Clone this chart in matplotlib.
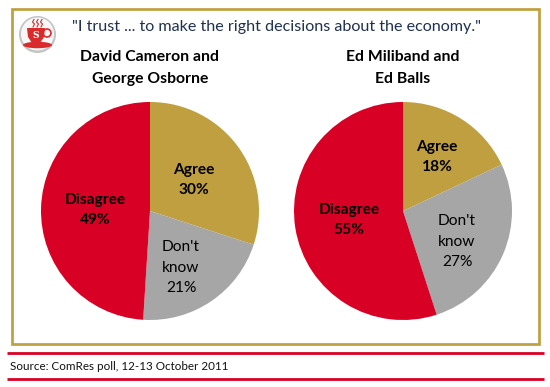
"""Trust on the economy: two pies with a framed panel and source strip."""

import matplotlib

matplotlib.use("Agg")

import matplotlib.pyplot as plt
from matplotlib.patches import Circle, Ellipse, Polygon, Rectangle

W, H = 550, 387

GOLD = "#BF9F3F"
RED = "#D90026"
GREY = "#A6A6A6"
LOGO_RED = "#D92B2B"

question = '"I trust ... to make the right decisions about the economy."'
source = "Source: ComRes poll, 12-13 October 2011"

titles = ["David Cameron and\nGeorge Osborne", "Ed Miliband and\nEd Balls"]
categories = ["Agree", "Don't\nknow", "Disagree"]
cameron_osborne = [30, 21, 49]
miliband_balls = [18, 27, 55]
colors = [GOLD, GREY, RED]

plt.rcParams["font.family"] = ["Lato", "DejaVu Sans"]

fig = plt.figure(figsize=(W / 100, H / 100), dpi=100)
# overlay in pixel coordinates, sits above the pies so labels stay visible
bg = fig.add_axes([0, 0, 1, 1], zorder=10)
bg.set_xlim(0, W)
bg.set_ylim(H, 0)
bg.axis("off")

# frame and source strip
bg.add_patch(Rectangle((11.7, 8.8), 527, 334.7, fill=False, ec=GOLD, lw=1.95))
bg.plot([7, 544], [353.4, 353.4], color=RED, lw=2.0, solid_capstyle="butt")
bg.plot([7, 544], [379.4, 379.4], color=RED, lw=2.0, solid_capstyle="butt")
bg.text(10, 367, source, fontsize=8.35, color="#111111", va="center")
bg.text(72, 26.5, question, fontsize=11.6, color="#1F3050", va="center")

# logo
bg.add_patch(Circle((37.5, 34.5), 18.5, fc="#C4C4C4", ec="none"))
bg.add_patch(Circle((37.5, 34), 16.5, fc="#F7F7F7", ec="none"))
bg.add_patch(Ellipse((37.5, 45), 29, 6.5, fc=LOGO_RED, ec="none"))
bg.add_patch(Polygon([(27, 28), (45, 28), (44, 37), (40, 43), (32, 43), (28, 37)],
                     fc=LOGO_RED, ec="none"))
bg.add_patch(Circle((47, 33), 4, fill=False, ec=LOGO_RED, lw=1.2))
for sx in (33, 37, 41):
    bg.plot([sx, sx + 1.5, sx - 0.5, sx + 1], [27, 24, 22, 19.5], color=LOGO_RED, lw=0.8)
bg.text(36, 35, "S", fontsize=6.5, color="white", fontweight="bold",
        family="DejaVu Serif", ha="center", va="center")


def draw_pie(cx, cy, r, values, title, label_pos):
    ax = fig.add_axes([(cx - r) / W, 1 - (cy + r) / H, 2 * r / W, 2 * r / H])
    ax.pie(values, colors=colors, startangle=90, counterclock=False, radius=1,
           wedgeprops={"linewidth": 0})
    ax.set_xlim(-1, 1)
    ax.set_ylim(-1, 1)
    bg.text(cx, 68, title, fontsize=11.3, fontweight="bold", ha="center",
            va="center", linespacing=1.65, color="black")
    for cat, val, (x, y), bold in zip(categories, values, label_pos, [True, False, True]):
        bg.text(x, y, f"{cat}\n{val}%", fontsize=11.2, ha="center", va="center",
                fontweight="bold" if bold else "normal", color="black",
                linespacing=1.55)


draw_pie(150, 211, 109, cameron_osborne, titles[0],
         [(194, 180), (181, 267.5), (95, 210)])
draw_pie(403, 211, 109, miliband_balls, titles[1],
         [(437, 157), (457, 241.5), (349, 220)])

fig.savefig("out.png", dpi=100)
plt.close(fig)
